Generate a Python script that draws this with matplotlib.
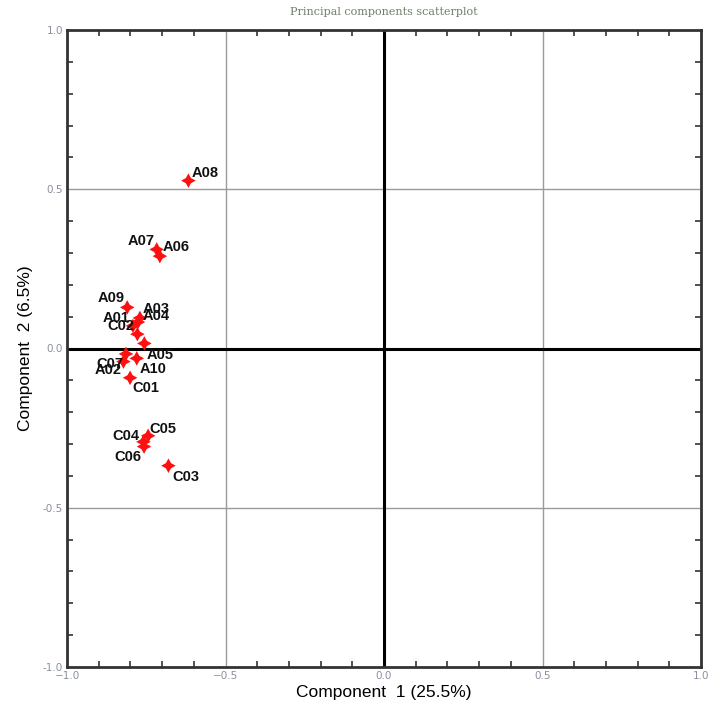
#!/usr/bin/env python
# -*- coding: utf-8 -*-
"""PCA scatterplot: component 1 vs component 2 with sample labels"""
import matplotlib
matplotlib.use("Agg")
import matplotlib.pyplot as plt
import numpy as np

# sample scores
names = ["A08", "A07", "A06", "A09", "A03", "A04", "A01", "C02", "A05",
         "C07", "A10", "A02", "C01", "C05", "C04", "C06", "C03"]
pc1 = [-0.617, -0.717, -0.707, -0.810, -0.770, -0.776, -0.792, -0.778, -0.756,
       -0.814, -0.780, -0.822, -0.801, -0.744, -0.759, -0.757, -0.680]
pc2 = [0.527, 0.311, 0.290, 0.129, 0.096, 0.083, 0.071, 0.045, 0.016,
       -0.017, -0.031, -0.041, -0.092, -0.274, -0.293, -0.308, -0.368]

xlabel = "Component  1 (25.5%)"
ylabel = "Component  2 (6.5%)"
title = "Principal components scatterplot"
tick_vals = [-1.0, -0.5, 0.0, 0.5, 1.0]

# where each label sits relative to its marker (pixels)
label_off = {
    "A08": (17, 8), "A07": (-16, 8), "A06": (16, 9), "A09": (-16, 9),
    "A03": (16, 9), "A04": (18, 6), "A01": (-17, 8), "C02": (-16, 8),
    "A05": (16, -12), "C07": (-16, -10), "A10": (16, -11), "A02": (-15, -8),
    "C01": (16, -10), "C05": (15, 7), "C04": (-17, 6), "C06": (-16, -10),
    "C03": (17, -11),
}

fig = plt.figure(figsize=(7.10, 7.06), dpi=100)
ax = fig.add_axes([67 / 710, 1 - 667 / 706, 634 / 710, 637 / 706])

ax.set_xlim(-1, 1)
ax.set_ylim(-1, 1)

for v in (-0.5, 0.5):
    ax.axvline(v, color="#9a9a9a", lw=1.0, zorder=1)
    ax.axhline(v, color="#9a9a9a", lw=1.0, zorder=1)
ax.axvline(0, color="black", lw=2.2, zorder=1)
ax.axhline(0, color="black", lw=2.2, zorder=1)

ax.scatter(pc1, pc2, marker=(4, 1, 0), s=110, color="#ff1010", edgecolor="none", zorder=3)

for n, x, y in zip(names, pc1, pc2):
    dx, dy = label_off[n]
    ax.annotate(n, (x, y), xytext=(dx, dy), textcoords="offset pixels",
                ha="center", va="center", fontsize=10.5, fontweight="bold",
                family=["Liberation Sans", "DejaVu Sans"], color="#111111", zorder=4)

for s in ax.spines.values():
    s.set_linewidth(2.0)
    s.set_color("#333333")

ax.set_xticks(tick_vals)
ax.set_yticks(tick_vals)
ax.set_xticks(np.arange(-0.9, 1.0, 0.1), minor=True)
ax.set_yticks(np.arange(-0.9, 1.0, 0.1), minor=True)
ax.set_xticklabels(["\u22121.0", "\u22120.5", "0.0", "0.5", "1.0"])
ax.set_yticklabels(["-1.0", "-0.5", "0.0", "0.5", "1.0"])
ax.tick_params(which="both", direction="in", top=True, right=True,
               length=4, width=1.2, color="#333333")
ax.tick_params(which="major", length=0, pad=3, labelsize=7.5, labelcolor="#8a8fa0")

ax.set_xlabel(xlabel, fontsize=12.5, family="Liberation Sans", labelpad=3)
ax.set_ylabel(ylabel, fontsize=12.5, family="Liberation Sans", labelpad=7)
ax.set_title(title, fontsize=8, color="#6f7f6a", pad=11, family="DejaVu Serif")

fig.savefig("out.png", dpi=100)
